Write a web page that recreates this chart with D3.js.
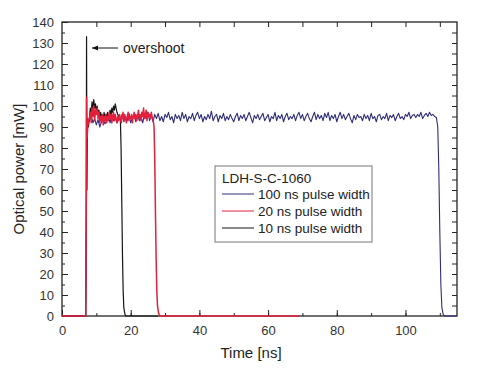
<!DOCTYPE html>
<html><head><meta charset="utf-8">
<script src="https://cdn.jsdelivr.net/npm/d3@7"></script>
<style>body{margin:0;background:#fff}svg{display:block}text{font-family:"Liberation Sans",Arial,sans-serif}</style>
</head><body><svg id="c" width="480" height="372"></svg>
<script>
// ---- data ----
const xTicks = [0, 20, 40, 60, 80, 100];
const yTicks = [0, 10, 20, 30, 40, 50, 60, 70, 80, 90, 100, 110, 120, 130, 140];
const legendTitle = "LDH-S-C-1060";
const seriesNames = ["100 ns pulse width", "20 ns pulse width", "10 ns pulse width"];
const seriesColors = ["#2e2c7c", "#e3203c", "#151515"];

// 100 ns pulse (time [ns], power [mW])
const t100 = [0, 6.9, 7.05, 7.2, 7.35, 7.5, 7.7,
 8,8.5,9,9.5,10,10.5,11,11.5,12,12.5, 13,13.5,14,14.5,15,15.5,16,16.5,17,17.5,
 18,18.5,19,19.5,20,20.5,21,21.5,22,22.5, 23,23.5,24,24.5,25,25.5,26,26.5,27,27.5,
 28,28.5,29,29.5,30,30.5,31,31.5,32,32.5, 33,33.5,34,34.5,35,35.5,36,36.5,37,37.5,
 38,38.5,39,39.5,40,40.5,41,41.5,42,42.5, 43,43.5,44,44.5,45,45.5,46,46.5,47,47.5,
 48,48.5,49,49.5,50,50.5,51,51.5,52,52.5, 53,53.5,54,54.5,55,55.5,56,56.5,57,57.5,
 58,58.5,59,59.5,60,60.5,61,61.5,62,62.5, 63,63.5,64,64.5,65,65.5,66,66.5,67,67.5,
 68,68.5,69,69.5,70,70.5,71,71.5,72,72.5, 73,73.5,74,74.5,75,75.5,76,76.5,77,77.5,
 78,78.5,79,79.5,80,80.5,81,81.5,82,82.5, 83,83.5,84,84.5,85,85.5,86,86.5,87,87.5,
 88,88.5,89,89.5,90,90.5,91,91.5,92,92.5, 93,93.5,94,94.5,95,95.5,96,96.5,97,97.5,
 98,98.5,99,99.5,100,100.5,101,101.5,102,102.5, 103,103.5,104,104.5,105,105.5,106,106.5,107,107.5,
 108,108.5,109, 109.4,109.7,110,110.3,110.6,111,111.5,115];
const p100 = [0, 0, 30, 75, 90, 94, 92,
 93,95.5,92,94,91,93.5,90,92.5,94,91.5, 93,95,92,96,93,94.5,92,95,93.5,96,
 92.5,95,93,96.5,92,94,95.5,92.5,96,93, 95,92,96,94,97,93,95.5,92.5,96,94,
 96.5,93,95,92.5,96,94.5,97,93.5,95,92, 96,94,95.5,93,97,94,96,92.5,95,94,
 96.5,93,95.5,97,94,96,92.5,95,93.5,96, 94,97.5,93,95,96,92.5,95.5,94,96.5,93,
 95,93.5,96,94,92.5,95,96.5,93,95.5,94, 96,93,95,97,94.5,92,95.5,94,96,93.5,
 95,96.5,93,94.5,96,92.5,95,94,97,93, 95.5,94,96,92.5,95,96.5,93.5,95,94,96,
 93,95.5,97,94,96,93,95,96.5,94,92.5, 95,97,93.5,96,94,95.5,93,96.5,94.5,97,
 93,95.5,94,96,92.5,95,97,94,96,93.5, 95,96.5,94,92,95.5,93.5,96,94.5,95,93,
 96,94,95.5,93,96.5,94,95,92.5,95.5,96, 93.5,95,94,96.5,93,95.5,94.5,96,93,95,
 96.5,94,95,93.5,96,95,97,94,95.5,96, 94.5,96,95,97,94,95.5,96.5,95,97,95.5,
 96,95,94.5, 90,70,40,15,4,0.5,0,0];

// 20 ns pulse
const t20 = [0, 6.9, 7.05, 7.15, 7.3, 7.5, 7.7,
 8,8.25,8.5,8.75,9,9.25,9.5,9.75,10,10.25, 10.5,10.75,11,11.25,11.5,11.75,12,12.25,12.5,12.75,
 13,13.25,13.5,13.75,14,14.25,14.5,14.75,15,15.25, 15.5,15.75,16,16.25,16.5,16.75,17,17.25,17.5,17.75,
 18,18.25,18.5,18.75,19,19.25,19.5,19.75,20,20.25, 20.5,20.75,21,21.25,21.5,21.75,22,22.25,22.5,22.75,
 23,23.25,23.5,23.75,24,24.25,24.5,24.75,25,25.25, 25.5,25.75,26,26.25,26.5,
 26.8,27,27.2,27.4,27.6,27.8,28.1,28.5,69];
const p20 = [0, 0, 50, 104, 85, 90, 93,
 94,97,92,99,95,100,93,98,96,99, 94,97,92,95,93,96,91,95,93,96,
 92,95,93,97,94,96,92,95,97,93, 96,94,92,95,93,96,94,92,95,97,
 93,96,94,92,95,97,93,95,94,96, 92,95,97,94,96,93,95,98,94,96,
 93,97,95,99,94,96,98,93,97,95, 96,94,97,95,94,
 90,75,50,28,12,5,1.5,0,0];

// 10 ns pulse
const t10 = [0, 6.9, 7.05, 7.15, 7.25, 7.35, 7.5, 7.7,
 8,8.25,8.5,8.75,9,9.25,9.5,9.75,10,10.25, 10.5,10.75,11,11.25,11.5,11.75,12,12.25,12.5,12.75,
 13,13.25,13.5,13.75,14,14.25,14.5,14.75,15,15.25, 15.5,15.75,16,16.25,16.5,16.75,17,
 17.2,17.4,17.6,17.8,18,18.3,18.6,28];
const p10 = [0, 0, 40, 133, 60, 88, 92, 90,
 95,99,97,102,98,103,99,101,97,100, 96,98,94,97,95,96,93,97,94,96,
 95,97,94,96,98,95,99,97,100,98, 101,99,97,96,95,94,93,
 80,55,30,12,4,1,0,0];

// ---- layout ----
const svg = d3.select("#c");
const m = {l: 62, r: 457, t: 22, b: 316};
const x = d3.scaleLinear().domain([0, 115]).range([m.l, m.r]);
const y = d3.scaleLinear().domain([0, 140]).range([m.b, m.t]);
const tickCol = "#222", txtCol = "#333";

// frame
svg.append("rect").attr("x", m.l).attr("y", m.t).attr("width", m.r - m.l).attr("height", m.b - m.t)
  .attr("fill", "none").attr("stroke", "#111").attr("stroke-width", 1.2);

function styleAxis(g) {
  g.select(".domain").remove();
  g.selectAll("line").attr("stroke", tickCol).attr("stroke-width", 1);
  g.selectAll("text").attr("fill", txtCol).style("font-size", "13px").style("font-family", '"Liberation Sans",Arial,sans-serif');
}
const minorX = d3.range(0, 115, 10);
const minorY = d3.range(0, 141, 5);
svg.append("g").attr("transform", `translate(0,${m.b})`)
  .call(d3.axisBottom(x).tickValues(xTicks).tickSize(-6).tickPadding(10).tickFormat(d3.format("d")))
  .call(styleAxis);
svg.append("g").attr("transform", `translate(0,${m.b})`)
  .call(d3.axisBottom(x).tickValues(minorX).tickSize(-3).tickFormat(""))
  .call(styleAxis);
svg.append("g").attr("transform", `translate(0,${m.t})`)
  .call(d3.axisTop(x).tickValues(minorX.filter(d => d > 0)).tickSize(-5).tickFormat(""))
  .call(styleAxis);
svg.append("g").attr("transform", `translate(${m.l},0)`)
  .call(d3.axisLeft(y).tickValues(yTicks).tickSize(-6).tickPadding(8).tickFormat(d3.format("d")))
  .call(styleAxis);
svg.append("g").attr("transform", `translate(${m.l},0)`)
  .call(d3.axisLeft(y).tickValues(minorY).tickSize(-3).tickFormat(""))
  .call(styleAxis);
svg.append("g").attr("transform", `translate(${m.r},0)`)
  .call(d3.axisRight(y).tickValues(minorY.filter(d => d > 0 && d < 140)).tickSize(-5).tickFormat(""))
  .call(styleAxis);

// traces
const line = d3.line().x(d => x(d[0])).y(d => y(d[1]));
const series = [
  {t: t10, p: p10, c: seriesColors[2], w: 1.2},
  {t: t100, p: p100, c: seriesColors[0], w: 1.1},
  {t: t20, p: p20, c: seriesColors[1], w: 1.5}
];
series.forEach(s => {
  svg.append("path").datum(d3.zip(s.t, s.p)).attr("d", line)
    .attr("fill", "none").attr("stroke", s.c).attr("stroke-width", s.w).attr("stroke-linejoin", "round");
});

// axis titles
svg.append("text").attr("x", 251).attr("y", 358).attr("text-anchor", "middle")
  .style("font-size", "15px").attr("fill", "#222").text("Time [ns]");
svg.append("text").attr("transform", "translate(24,169) rotate(-90)").attr("text-anchor", "middle")
  .style("font-size", "15px").attr("fill", "#222").text("Optical power [mW]");

// overshoot annotation
svg.append("defs").append("marker").attr("id", "ah").attr("viewBox", "0 0 10 10").attr("refX", 10).attr("refY", 5)
  .attr("markerWidth", 7).attr("markerHeight", 6).attr("orient", "auto")
  .append("path").attr("d", "M0,1 L10,5 L0,9 Z").attr("fill", "#111");
svg.append("line").attr("x1", 118).attr("y1", 48).attr("x2", 92).attr("y2", 48)
  .attr("stroke", "#111").attr("stroke-width", 1).attr("marker-end", "url(#ah)");
svg.append("text").attr("x", 123).attr("y", 53).style("font-size", "14px").attr("fill", "#222").text("overshoot");

// legend
const lg = svg.append("g");
lg.append("rect").attr("x", 215).attr("y", 166).attr("width", 157).attr("height", 76)
  .attr("fill", "#fff").attr("stroke", "#777").attr("stroke-width", 1);
lg.append("text").attr("x", 222).attr("y", 183).style("font-size", "13.5px").attr("fill", "#222").text(legendTitle);
seriesNames.forEach((n, i) => {
  const yy = 194 + i * 17;
  lg.append("line").attr("x1", 222).attr("x2", 254).attr("y1", yy).attr("y2", yy)
    .attr("stroke", seriesColors[i]).attr("stroke-width", 1);
  lg.append("text").attr("x", 258).attr("y", yy + 5).style("font-size", "13.5px").attr("fill", "#222").text(n);
});
</script></body></html>
